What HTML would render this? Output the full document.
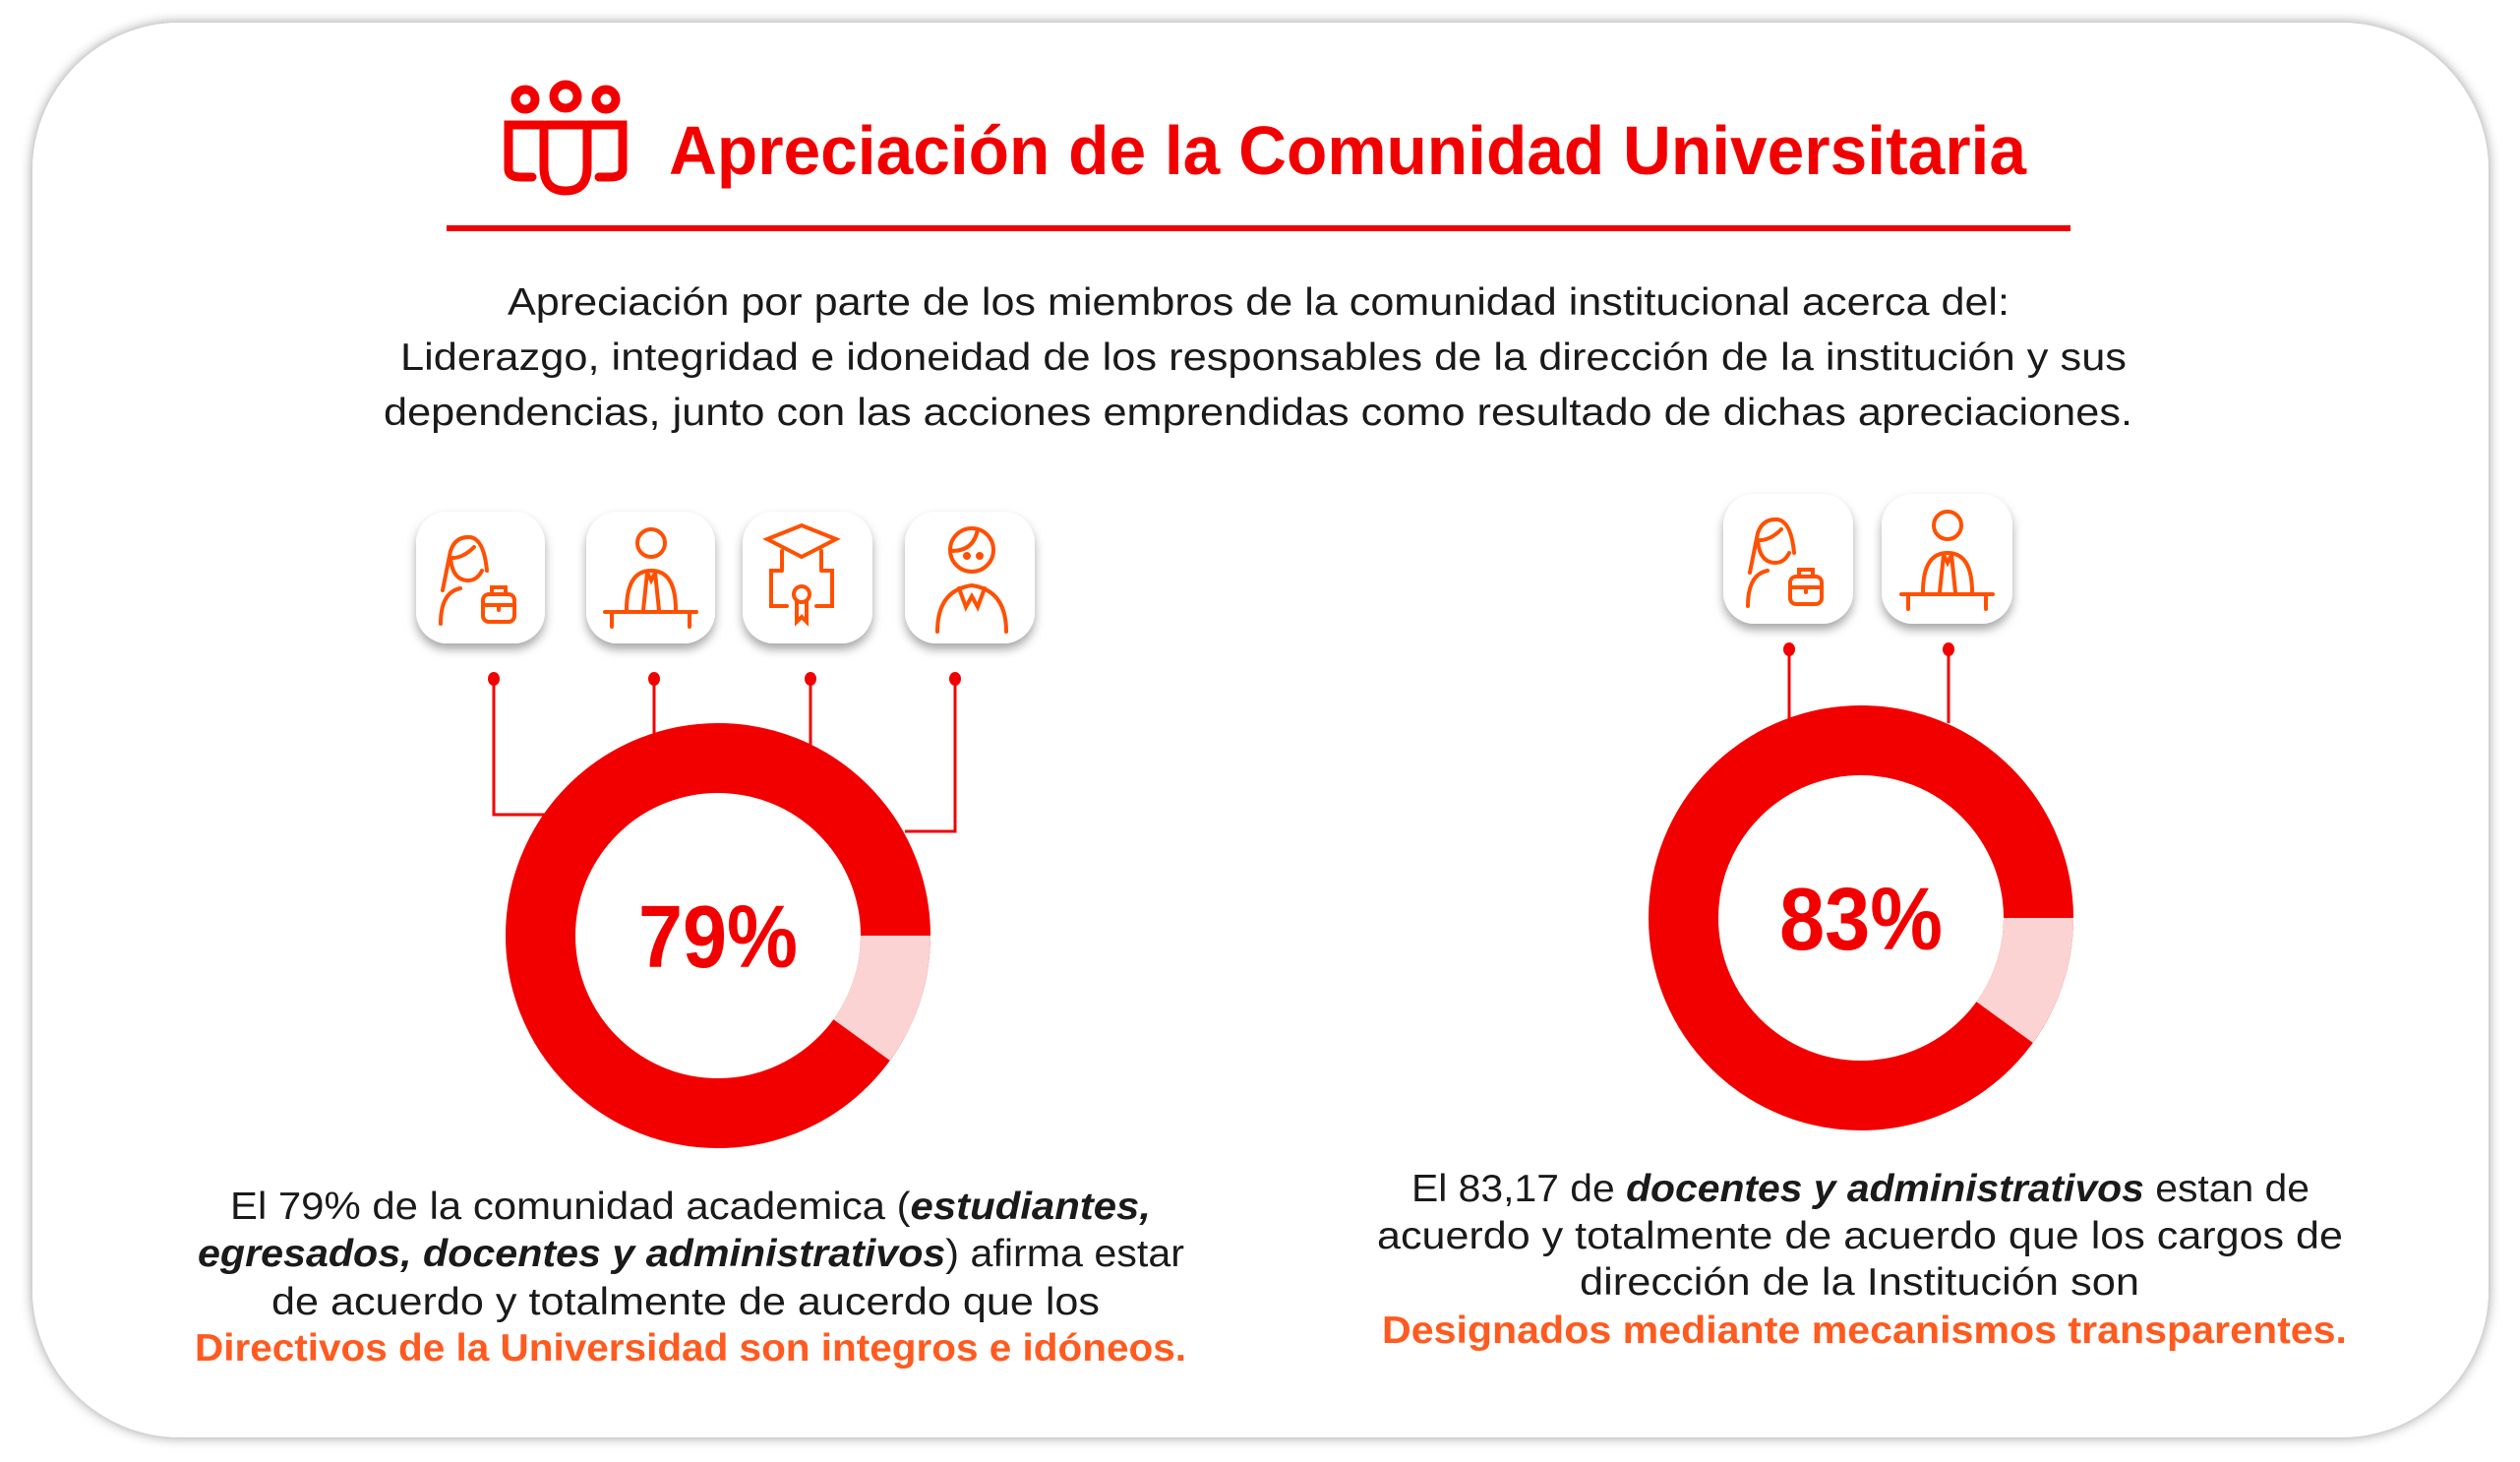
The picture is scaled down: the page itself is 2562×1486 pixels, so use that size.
<!DOCTYPE html>
<html><head><meta charset="utf-8"><style>
html,body{margin:0;padding:0;background:#fff;}
svg{display:block;}
text{font-family:"Liberation Sans",sans-serif;}
</style></head><body>
<svg width="2562" height="1486" viewBox="0 0 2562 1486" xmlns="http://www.w3.org/2000/svg">
<defs>
<filter id="sh" x="-20%" y="-20%" width="140%" height="140%"><feDropShadow dx="0" dy="6" stdDeviation="5" flood-color="#000" flood-opacity="0.35"/></filter>
<filter id="sh2" x="-5%" y="-5%" width="110%" height="110%"><feDropShadow dx="0" dy="0" stdDeviation="6" flood-color="#000" flood-opacity="0.4"/></filter>
</defs>
<rect x="0" y="0" width="2562" height="1486" fill="#fff"/>
<rect x="33" y="23" width="2497" height="1438" rx="150" fill="#fff" filter="url(#sh2)"/>

<!-- title icon -->
<g fill="none" stroke="#F20000" stroke-width="9" stroke-linecap="round">
<circle cx="534" cy="101" r="10"/><circle cx="575" cy="98" r="12"/><circle cx="616" cy="101" r="10"/>
<path d="M553 127 H517 V172 Q517 180 530 180 H541"/>
<path d="M597 127 H633 V172 Q633 180 620 180 H609"/>
<path d="M556 127 H594 Q597 127 597 132 V170 Q597 194 575 194 Q553 194 553 170 V132 Q553 127 556 127Z"/>
</g>
<text x="680" y="177" font-size="70" font-weight="bold" fill="#F20000" textLength="1380" lengthAdjust="spacingAndGlyphs">Apreciación de la Comunidad Universitaria</text>
<rect x="454" y="229" width="1651" height="6" fill="#F20000"/>

<g font-size="39" fill="#1a1a1a" text-anchor="start">
<text x="516" y="320" textLength="1527" lengthAdjust="spacingAndGlyphs">Apreciación por parte de los miembros de la comunidad institucional acerca del:</text>
<text x="407" y="376" textLength="1755" lengthAdjust="spacingAndGlyphs">Liderazgo, integridad e idoneidad de los responsables de la dirección de la institución y  sus</text>
<text x="390" y="432" textLength="1778" lengthAdjust="spacingAndGlyphs">dependencias, junto con las acciones emprendidas como resultado de dichas  apreciaciones.</text>
</g>

<!-- cards -->
<g fill="#fff" filter="url(#sh)">
<rect x="423" y="520" width="131" height="134" rx="32"/>
<rect x="596" y="520" width="131" height="134" rx="32"/>
<rect x="755" y="520" width="132" height="134" rx="32"/>
<rect x="920" y="520" width="132" height="134" rx="32"/>
<rect x="1752" y="502" width="132" height="132" rx="32"/>
<rect x="1913" y="502" width="133" height="132" rx="32"/>
</g>
<g fill="none" stroke="#FF5000" stroke-width="4" stroke-linecap="round">
<!-- woman briefcase -->
<g id="wb">
<path d="M450 600 L458 560 Q463 545 478 546 Q492 548 495 580"/>
<path d="M458 567 Q470 568 482 556"/>
<path d="M458 567 Q460 590 476 590 Q485 590 490 580"/>
<path d="M448 634 Q448 602 468 598"/>
<rect x="491" y="604" width="32" height="28" rx="6"/><path d="M500 604 V597 H514 V604 M491 615 H523 M507 615 V620"/>
</g>
<!-- man at desk -->
<circle cx="662" cy="552" r="14"/>
<path d="M637 620 Q637 580 662 580 Q687 580 687 620 M658 582 L654 620 M666 582 L670 620 M658 582 L662 590 L666 582"/>
<path d="M615 622 H708 M622 622 V637 M701 622 V637"/>
<!-- graduate -->
<path d="M780 548 L815 534 L850 548 L815 566 Z"/>
<path d="M795 560 V578 M835 560 V578 M795 580 H784 V616 H800 M835 580 H846 V616 H830"/>
<circle cx="815" cy="604" r="8"/><path d="M810 612 V632 L815 627 L820 632 V612"/>
<!-- student -->
<circle cx="988" cy="559" r="22"/>
<path d="M968 560 Q990 560 994 538"/>
<circle cx="983" cy="565" r="2"/><circle cx="996" cy="565" r="2"/>
<path d="M953 642 Q953 600 988 595 Q1023 600 1023 642 M975 598 L982 617 L988 606 L994 617 L1001 598"/>
<!-- right group -->
<g transform="translate(1329,-18)">
<path d="M450 600 L458 560 Q463 545 478 546 Q492 548 495 580"/>
<path d="M458 567 Q470 568 482 556"/>
<path d="M458 567 Q460 590 476 590 Q485 590 490 580"/>
<path d="M448 634 Q448 602 468 598"/>
<rect x="491" y="604" width="32" height="28" rx="6"/><path d="M500 604 V597 H514 V604 M491 615 H523 M507 615 V620"/>
</g>
<g transform="translate(1318,-18)">
<circle cx="662" cy="552" r="14"/>
<path d="M637 620 Q637 580 662 580 Q687 580 687 620 M658 582 L654 620 M666 582 L670 620 M658 582 L662 590 L666 582"/>
<path d="M615 622 H708 M622 622 V637 M701 622 V637"/>
</g>
</g>

<!-- connectors -->
<g stroke="#F20000" stroke-width="3" fill="none">
<path d="M502 690 V828 H560"/>
<path d="M665 690 V750"/>
<path d="M824 690 V760"/>
<path d="M971 690 V845 H920"/>
<path d="M1819 660 V735"/>
<path d="M1981 660 V735"/>
</g>
<g fill="#F20000">
<ellipse cx="502" cy="690" rx="6" ry="7"/><ellipse cx="665" cy="690" rx="6" ry="7"/><ellipse cx="824" cy="690" rx="6" ry="7"/><ellipse cx="971" cy="690" rx="6" ry="7"/>
<ellipse cx="1819" cy="660" rx="6" ry="7"/><ellipse cx="1981" cy="660" rx="6" ry="7"/>
</g>

<!-- donuts -->
<circle cx="730" cy="951" r="180.5" fill="none" stroke="#F20000" stroke-width="71"/>
<path d="M910.5 951 A180.5 180.5 0 0 1 876 1057" fill="none" stroke="#FBD3D3" stroke-width="71"/>
<text x="730" y="983" font-size="90" font-weight="bold" fill="#F20000" text-anchor="middle" textLength="162" lengthAdjust="spacingAndGlyphs">79%</text>

<circle cx="1892" cy="933" r="180.5" fill="none" stroke="#F20000" stroke-width="71"/>
<path d="M2072.5 933 A180.5 180.5 0 0 1 2038 1039" fill="none" stroke="#FBD3D3" stroke-width="71"/>
<text x="1892" y="965" font-size="90" font-weight="bold" fill="#F20000" text-anchor="middle" textLength="166" lengthAdjust="spacingAndGlyphs">83%</text>

<!-- left caption -->
<g font-size="39" fill="#1a1a1a">
<text x="234" y="1239" textLength="936" lengthAdjust="spacingAndGlyphs">El 79% de la comunidad academica (<tspan font-weight="bold" font-style="italic">estudiantes,</tspan></text>
<text x="201" y="1287" textLength="1003" lengthAdjust="spacingAndGlyphs"><tspan font-weight="bold" font-style="italic">egresados, docentes y administrativos</tspan>) afirma estar</text>
<text x="276" y="1336" textLength="842" lengthAdjust="spacingAndGlyphs">de acuerdo y totalmente de aucerdo que los</text>
<text x="198" y="1383" font-weight="bold" fill="#FF5A1F" textLength="1008" lengthAdjust="spacingAndGlyphs">Directivos de la Universidad son integros e idóneos.</text>
<!-- right caption -->
<text x="1435" y="1221" textLength="913" lengthAdjust="spacingAndGlyphs">El 83,17 de <tspan font-weight="bold" font-style="italic">docentes y administrativos</tspan> estan de</text>
<text x="1400" y="1269" textLength="982" lengthAdjust="spacingAndGlyphs">acuerdo y totalmente de acuerdo que los cargos de</text>
<text x="1606" y="1316" textLength="569" lengthAdjust="spacingAndGlyphs">dirección de la Institución son</text>
<text x="1405" y="1365" font-weight="bold" fill="#FF5A1F" textLength="981" lengthAdjust="spacingAndGlyphs">Designados mediante mecanismos transparentes.</text>
</g>
</svg>
</body></html>
